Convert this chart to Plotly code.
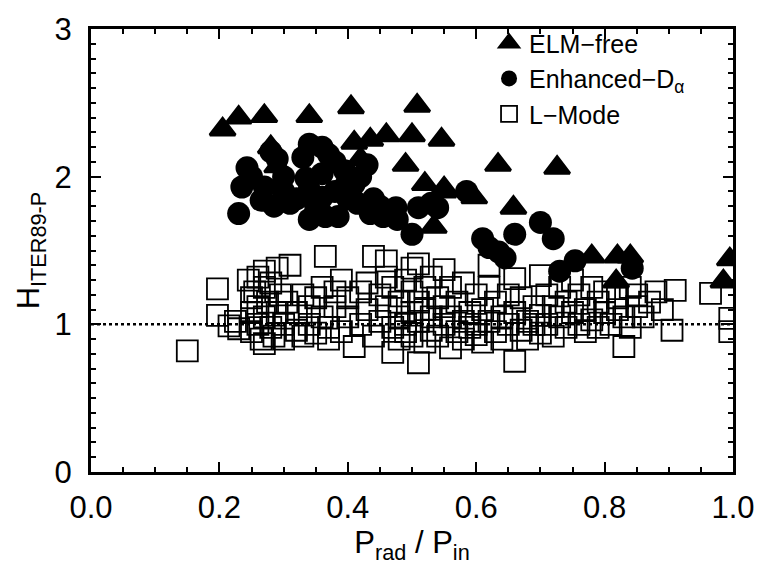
import plotly.graph_objects as go

# ELM-free (triangles)
elm_x = [0.205, 0.23, 0.27, 0.34, 0.405, 0.508, 0.28, 0.29, 0.41, 0.435, 0.46, 0.50,
         0.546, 0.42, 0.49, 0.52, 0.55, 0.534, 0.549, 0.597, 0.634, 0.726, 0.658,
         0.78, 0.82, 0.84, 0.818, 0.985, 0.995]
elm_y = [2.32, 2.40, 2.41, 2.41, 2.47, 2.48, 2.20, 2.07, 2.23, 2.25, 2.28, 2.28,
         2.25, 2.12, 2.08, 1.95, 1.92, 1.66, 1.90, 1.86, 2.08, 2.06, 1.79,
         1.46, 1.46, 1.46, 1.29, 1.29, 1.44]

# Enhanced-D_alpha (circles)
eda_x = [0.243, 0.235, 0.23, 0.28, 0.29, 0.27, 0.265, 0.285, 0.31, 0.34, 0.33, 0.335,
         0.34, 0.34, 0.37, 0.36, 0.36, 0.365, 0.385, 0.395, 0.395, 0.41, 0.415, 0.43,
         0.435, 0.455, 0.475, 0.477, 0.50, 0.51, 0.53, 0.54, 0.585, 0.70, 0.72, 0.61,
         0.66, 0.635, 0.754, 0.73, 0.843,
         0.25, 0.30, 0.32, 0.35, 0.38, 0.38, 0.40, 0.44, 0.45, 0.47, 0.30, 0.36, 0.42,
         0.645, 0.62]
eda_y = [2.06, 1.93, 1.75, 2.17, 2.12, 1.93, 1.84, 1.80, 1.82, 2.22, 2.13, 1.99,
         1.91, 1.71, 2.15, 2.02, 1.86, 1.73, 1.73, 2.04, 1.93, 1.95, 1.82, 2.08,
         1.75, 1.73, 1.79, 1.71, 1.61, 1.79, 1.82, 1.79, 1.90, 1.69, 1.58, 1.58,
         1.61, 1.49, 1.43, 1.36, 1.38,
         2.00, 1.90, 1.85, 1.80, 1.90, 2.10, 1.85, 1.85, 1.80, 1.75, 2.00, 2.20, 2.00,
         1.45, 1.52]

# L-Mode (open squares)
lmode_x = [0.15, 0.197, 0.197, 0.215, 0.225, 0.23,
           0.245, 0.25, 0.25, 0.25, 0.255, 0.26, 0.26, 0.26, 0.265, 0.27, 0.27, 0.27, 0.27,
           0.275, 0.28, 0.28, 0.285, 0.29, 0.29, 0.295, 0.30, 0.30, 0.305, 0.31,
           0.32, 0.32, 0.33, 0.33, 0.34, 0.34, 0.35, 0.35, 0.36, 0.36, 0.365, 0.37, 0.37,
           0.38, 0.38, 0.39, 0.39, 0.40, 0.40,
           0.41, 0.42, 0.42, 0.43, 0.43, 0.44, 0.44, 0.45, 0.45, 0.46, 0.46, 0.46, 0.47,
           0.47, 0.47, 0.48, 0.48, 0.48, 0.49, 0.49, 0.49, 0.50, 0.50, 0.50, 0.50,
           0.51, 0.51, 0.51, 0.51, 0.52, 0.52, 0.52, 0.53, 0.53, 0.53, 0.54, 0.54, 0.55,
           0.55, 0.55, 0.56, 0.56, 0.56, 0.57, 0.57, 0.58, 0.58, 0.58, 0.59, 0.59, 0.60,
           0.60, 0.60,
           0.61, 0.61, 0.62, 0.62, 0.62, 0.63, 0.63, 0.64, 0.64, 0.65, 0.65, 0.66, 0.66,
           0.66, 0.67, 0.67, 0.68, 0.68, 0.69, 0.69, 0.70, 0.70, 0.70,
           0.71, 0.71, 0.72, 0.72, 0.73, 0.73, 0.74, 0.74, 0.75, 0.75, 0.76, 0.76, 0.77,
           0.77, 0.78, 0.78, 0.79, 0.79, 0.80, 0.80,
           0.81, 0.82, 0.82, 0.83, 0.83, 0.84, 0.84, 0.85, 0.85, 0.86, 0.87, 0.88, 0.89,
           0.905, 0.91, 0.965, 0.995, 0.995]
lmode_y = [0.82, 1.24, 1.06, 0.99, 1.02, 0.97,
           1.30, 1.18, 1.08, 0.95, 1.22, 1.32, 1.12, 1.00, 0.90, 1.36, 1.25, 1.05, 0.87,
           1.15, 0.98, 1.28, 0.92, 1.08, 1.38, 1.20, 1.00, 0.90, 1.15, 1.40,
           1.08, 0.96, 1.20, 0.92, 1.12, 1.00, 0.94, 1.18, 1.25, 1.05, 1.46, 0.90, 0.98,
           1.22, 1.12, 1.30, 0.95, 1.05, 1.18,
           0.85, 1.22, 1.00, 1.28, 1.10, 1.46, 0.92, 1.20, 1.02, 1.43, 1.32, 1.12, 0.81,
           0.98, 1.25, 1.05, 0.90, 1.15, 1.30, 1.00, 0.95, 1.22, 1.08, 0.92, 1.38,
           0.74, 1.41, 1.15, 1.02, 0.88, 1.25, 1.10, 0.96, 1.32, 1.05, 1.18, 0.92, 1.37,
           1.00, 1.12, 0.84, 1.25, 1.05, 0.95, 1.15, 1.02, 1.28, 0.90, 1.08, 0.98, 1.20,
           1.00, 0.93,
           1.10, 0.88, 1.40, 1.02, 1.25, 0.95, 1.15, 1.05, 0.90, 1.20, 1.00, 0.75, 1.31,
           1.08, 0.96, 1.18, 1.02, 0.90, 1.12, 1.00, 1.33, 1.06, 0.94,
           1.20, 1.00, 0.92, 1.12, 1.05, 1.25, 0.98, 1.15, 1.08, 1.30, 1.00, 1.20, 0.95,
           1.10, 1.25, 1.03, 0.98, 1.15, 1.08, 1.22,
           1.00, 1.18, 1.10, 0.85, 1.05, 1.25, 0.98, 1.12, 1.20, 1.05, 1.15, 1.22, 1.10,
           0.96, 1.23, 1.21, 0.95, 1.04]

ref_x = [0.0, 1.0]
ref_y = [1.0, 1.0]

x_ticks = [0.0, 0.2, 0.4, 0.6, 0.8, 1.0]
x_ticklabels = ["0.0", "0.2", "0.4", "0.6", "0.8", "1.0"]
y_ticks = [0, 1, 2, 3]
y_ticklabels = ["0", "1", "2", "3"]

FONT = "Liberation Sans, Arial, sans-serif"

fig = go.Figure()

fig.add_trace(go.Scatter(
    x=ref_x, y=ref_y, mode="lines", showlegend=False, hoverinfo="skip",
    line=dict(color="black", width=2.5, dash="dot")))

fig.add_trace(go.Scatter(
    x=lmode_x, y=lmode_y, mode="markers", name="L\u2212Mode", legendrank=3,
    marker=dict(symbol="square-open", size=21, color="black",
                line=dict(color="black", width=1.8))))

fig.add_trace(go.Scatter(
    x=elm_x, y=elm_y, mode="markers", name="ELM\u2212free", legendrank=1,
    marker=dict(symbol="triangle-up", size=22, color="black",
                line=dict(color="black", width=3))))

fig.add_trace(go.Scatter(
    x=eda_x, y=eda_y, mode="markers", name="Enhanced\u2212D<sub>\u03b1</sub>",
    legendrank=2,
    marker=dict(symbol="circle", size=23, color="black", line=dict(width=0))))

axis_common = dict(
    showline=True, linecolor="black", linewidth=3, mirror="allticks",
    ticks="inside", ticklen=10, tickwidth=2, tickcolor="black",
    showgrid=False, zeroline=False,
    tickfont=dict(family=FONT, size=31, color="black"),
    ticklabeloverflow="allow",
)

fig.update_xaxes(
    range=[0, 1], tickvals=x_ticks, ticktext=x_ticklabels,
    ticklabelstandoff=6,
    minor=dict(dtick=0.05, tick0=0, ticks="inside", ticklen=5, tickwidth=2,
               tickcolor="black", showgrid=False),
    title=dict(text="P<sub>rad</sub> / P<sub>in</sub>",
               font=dict(family=FONT, size=31, color="black"), standoff=0),
    **axis_common)

fig.update_yaxes(
    range=[0, 3], tickvals=y_ticks, ticktext=y_ticklabels,
    ticklabelstandoff=10,
    minor=dict(dtick=0.1, tick0=0, ticks="inside", ticklen=5, tickwidth=2,
               tickcolor="black", showgrid=False),
    title=dict(text="H<sub>ITER89-P</sub>",
               font=dict(family=FONT, size=31, color="black"), standoff=6),
    **axis_common)

fig.update_layout(
    width=767, height=569,
    margin=dict(l=91, r=25, t=14, b=97),
    plot_bgcolor="white", paper_bgcolor="white",
    legend=dict(x=0.62, y=1.02, xanchor="left", yanchor="top",
                bgcolor="rgba(0,0,0,0)", borderwidth=0,
                font=dict(family=FONT, size=25, color="black"),
                traceorder="normal", itemsizing="trace"),
    showlegend=True,
)

fig.write_html("out.html",
               config={"displayModeBar": False},
               post_script="document.body.style.margin='0';"
                           "document.body.style.overflow='hidden';")
